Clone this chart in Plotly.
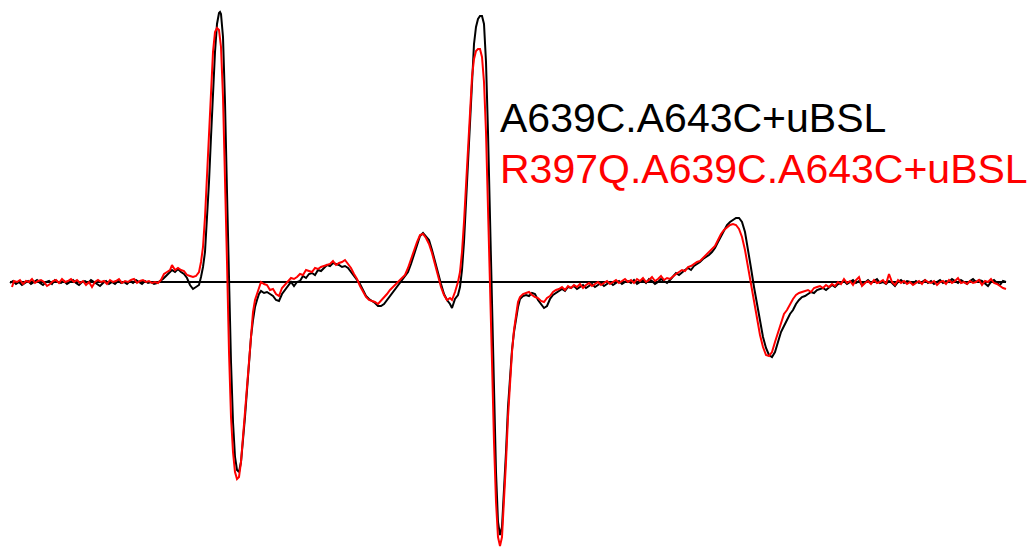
import plotly.graph_objects as go

# EPR first-derivative spectra (field index vs. signal, arbitrary units)
black_field = [
    10, 13, 16, 19, 22, 25, 28, 31, 34, 37, 40, 43, 46, 49, 52, 55, 58, 61, 64, 67,
    70, 73, 76, 79, 82, 85, 88, 91, 94, 97, 100, 103, 106, 109, 112, 115, 118, 121, 124, 127,
    130, 133, 136, 139, 142, 145, 148, 151, 154, 157, 160, 163, 166, 169, 172, 175, 178, 181, 184, 187,
    190, 193, 196, 199, 201, 203, 205, 207, 209, 211, 213, 215, 217, 219, 220, 221, 223, 225, 227, 229,
    231, 233, 235, 237, 239, 241, 243, 245, 247, 249, 251, 253, 255, 257, 259, 261, 264, 267, 270, 273,
    276, 279, 282, 285, 288, 291, 294, 297, 300, 303, 306, 309, 312, 315, 318, 321, 324, 327, 330, 333,
    336, 339, 342, 345, 348, 351, 354, 357, 360, 363, 366, 369, 372, 375, 378, 381, 384, 387, 390, 393,
    396, 399, 402, 405, 408, 411, 414, 417, 420, 423, 426, 429, 432, 435, 438, 441, 444, 447, 450, 452,
    455, 458, 460, 462, 464, 466, 468, 470, 472, 474, 476, 478, 480, 482, 484, 486, 488, 490, 492, 494,
    496, 498, 500, 502, 504, 506, 508, 510, 512, 514, 516, 518, 520, 523, 526, 529, 532, 535, 538, 541,
    544, 547, 550, 553, 556, 559, 562, 565, 568, 571, 574, 577, 580, 583, 586, 589, 592, 595, 598, 601,
    604, 607, 610, 613, 616, 619, 622, 625, 628, 631, 634, 637, 640, 643, 646, 649, 652, 655, 658, 661,
    664, 667, 670, 673, 676, 679, 682, 685, 688, 691, 694, 697, 700, 703, 706, 709, 712, 715, 718, 721,
    724, 727, 730, 733, 736, 739, 742, 745, 748, 751, 754, 757, 760, 763, 766, 769, 772, 775, 778, 781,
    784, 787, 790, 793, 796, 799, 802, 805, 808, 811, 814, 817, 820, 823, 826, 829, 832, 835, 838, 841,
    844, 847, 850, 853, 856, 859, 862, 865, 868, 871, 874, 877, 880, 883, 886, 889, 892, 895, 898, 901,
    904, 907, 910, 913, 916, 919, 922, 925, 928, 931, 934, 937, 940, 943, 946, 949, 952, 955, 958, 961,
    964, 967, 970, 973, 976, 979, 982, 985, 988, 991, 994, 997, 1000, 1003, 1006,
]
black_signal = [
    -1, 1, -2, 0, -3, -1, 1, -2, 0, 2, -1, -3, 0, 1, -2, 2, 0, -1, 1, -2,
    0, 2, -1, -3, 0, 1, -1, 2, 0, -2, -4, -1, 1, -2, 0, -2, 1, -1, 0, -2,
    1, -1, 2, 0, -2, 1, -1, 0, -2, -1, 1, 3, 6, 9, 12, 10, 13, 10, 8, 4,
    -3, -7, -5, -3, 5, 15, 30, 60, 100, 145, 190, 230, 258, 269, 270, 268, 245, 180, 90, 0,
    -80, -140, -175, -188, -190, -180, -160, -135, -108, -80, -55, -38, -25, -18, -12, -9, -11, -10, -12, -14,
    -18, -19, -12, -8, -3, 0, -4, 0, 1, 6, 4, 8, 9, 7, 12, 11, 14, 17, 16, 19,
    18, 17, 15, 16, 14, 10, 7, 2, -2, -8, -14, -17, -19, -21, -24, -24, -22, -18, -15, -11,
    -6, -3, 2, 5, 10, 18, 28, 38, 46, 49, 46, 42, 32, 20, 10, -2, -12, -18, -22, -26,
    -17, -13, -5, 12, 40, 80, 130, 170, 210, 238, 255, 263, 266, 266, 258, 220, 150, 60, -20, -110,
    -190, -240, -253, -245, -210, -170, -125, -90, -68, -50, -35, -25, -17, -14, -13, -14, -11, -12, -18, -22,
    -26, -24, -17, -13, -11, -9, -7, -9, -5, -6, -4, -7, -5, -3, -6, -4, -2, -5, -3, -1,
    -4, -2, 0, -3, -1, 1, -2, 0, 1, -1, 2, -2, 0, 2, -1, 3, 1, -2, 0, 3,
    1, -1, 2, 5, 9, 7, 10, 12, 14, 12, 16, 18, 20, 23, 25, 27, 30, 34, 40, 46,
    52, 57, 60, 62, 64, 64, 60, 50, 34, 14, -5, -22, -40, -55, -66, -73, -75, -70, -60, -50,
    -44, -38, -32, -28, -22, -18, -15, -14, -12, -10, -11, -8, -7, -6, -8, -5, -3, -5, -2, -1,
    1, -2, 0, 2, -1, 1, -3, 0, 2, -1, 1, 3, -1, 0, -2, 1, -1, -4, 0, 2,
    -1, 1, 0, -2, 1, -1, 0, 2, -1, 1, -2, 0, 2, -1, 1, 0, 3, 1, -1, 2,
    0, -2, 1, 3, 0, 2, 1, -2, -4, 0, 2, -1, -3, 1, 0,
]

red_field = [
    12, 14, 17, 20, 23, 26, 29, 32, 35, 38, 41, 44, 47, 50, 53, 56, 59, 62, 65, 68,
    71, 74, 77, 80, 83, 86, 89, 92, 95, 98, 101, 104, 107, 110, 113, 116, 119, 122, 125, 128,
    131, 134, 137, 140, 143, 146, 149, 152, 155, 158, 161, 164, 167, 170, 172, 175, 178, 181, 184, 187,
    190, 193, 196, 199, 201, 203, 205, 207, 209, 211, 213, 215, 217, 219, 221, 223, 225, 227, 229, 231,
    233, 235, 237, 239, 241, 243, 245, 247, 249, 251, 253, 255, 257, 259, 261, 264, 267, 270, 273, 276,
    279, 282, 285, 288, 291, 294, 297, 300, 303, 306, 309, 312, 315, 318, 321, 324, 327, 330, 333, 336,
    339, 342, 345, 348, 351, 354, 357, 360, 363, 366, 369, 372, 375, 378, 381, 384, 387, 390, 393, 396,
    399, 402, 405, 408, 411, 414, 417, 420, 423, 426, 429, 432, 435, 438, 441, 444, 447, 450, 452, 455,
    458, 460, 462, 464, 466, 468, 470, 472, 474, 476, 478, 480, 482, 484, 486, 488, 490, 492, 494, 496,
    498, 500, 502, 504, 506, 508, 510, 512, 514, 516, 518, 520, 523, 526, 529, 532, 535, 538, 541, 544,
    547, 550, 553, 556, 559, 562, 565, 568, 571, 574, 577, 580, 583, 586, 589, 592, 595, 598, 601, 604,
    607, 610, 613, 616, 619, 622, 625, 628, 631, 634, 637, 640, 643, 646, 649, 652, 655, 658, 661, 664,
    667, 670, 673, 676, 679, 682, 685, 688, 691, 694, 697, 700, 703, 706, 709, 712, 715, 718, 721, 724,
    727, 730, 733, 736, 739, 742, 745, 748, 751, 754, 757, 760, 763, 766, 769, 772, 775, 778, 781, 784,
    787, 790, 793, 796, 799, 802, 805, 808, 811, 814, 817, 820, 823, 826, 829, 832, 835, 838, 841, 844,
    847, 850, 853, 856, 859, 862, 865, 868, 871, 874, 877, 880, 883, 886, 889, 892, 895, 898, 901, 904,
    907, 910, 913, 916, 919, 922, 925, 928, 931, 934, 937, 940, 943, 946, 949, 952, 955, 958, 961, 964,
    967, 970, 973, 976, 979, 982, 985, 988, 991, 994, 997, 1000, 1003, 1006,
]
red_signal = [
    -5, 1, 0, 2, -2, 1, 0, 3, -1, 1, 2, 0, -4, -2, 1, 2, -1, 3, 0, 1,
    3, 0, 2, -1, 1, -3, 0, -5, 0, 2, 0, 1, -2, 2, 0, 1, 3, -1, 1, 0,
    2, 3, -1, 1, 2, 0, 1, -1, 0, -1, 2, 8, 10, 12, 17, 12, 14, 12, 11, 7,
    6, 5, 6, 10, 20, 35, 65, 105, 150, 195, 230, 250, 254, 252, 235, 185, 110, 20, -70, -135,
    -170, -190, -197, -195, -180, -155, -128, -100, -72, -48, -30, -18, -12, -5, 0, -2, -3, -8, -7, -12,
    -14, -6, -3, 0, 4, 3, 5, 8, 7, 12, 11, 10, 14, 13, 15, 16, 17, 18, 21, 17,
    19, 20, 22, 18, 14, 8, 3, -4, -10, -15, -18, -19, -20, -22, -19, -16, -12, -8, -5, -3,
    0, 3, 7, 14, 23, 32, 40, 47, 48, 44, 38, 29, 18, 6, -5, -13, -18, -16, -18, -10,
    0, 10, 30, 60, 100, 140, 175, 205, 223, 231, 233, 233, 225, 200, 150, 80, 0, -80, -160, -220,
    -255, -264, -255, -220, -180, -135, -95, -70, -48, -32, -20, -15, -12, -11, -10, -13, -15, -16, -19, -20,
    -16, -14, -10, -8, -7, -5, -8, -4, -6, -3, -5, -2, -6, -3, -1, -4, -2, 0, -3, -1,
    1, -2, 0, 2, -1, 1, 3, 0, 2, -1, 3, 1, 4, 0, 2, 5, 1, 3, 6, 2,
    4, 3, 6, 8, 10, 12, 11, 15, 16, 18, 20, 21, 24, 26, 29, 32, 36, 42, 48, 52,
    55, 57, 58, 57, 53, 45, 32, 15, -2, -20, -38, -53, -65, -73, -74, -70, -60, -50, -40, -32,
    -28, -22, -17, -13, -11, -10, -9, -8, -10, -6, -5, -4, -6, -3, -5, -2, -4, 0, -2, 3,
    -1, 1, -3, 2, 5, -4, -1, 1, -2, 2, -1, 0, 2, -2, 8, 0, -3, 2, -1, 1,
    -2, 0, -3, -1, 1, -2, 2, 0, -1, 1, -3, 0, 1, -2, 2, -1, 1, 4, -1, 0,
    -2, 1, -1, 0, 2, -3, 1, 0, 3, -1, -2, -4, -6, -7,
]

series_names = ["A639C.A643C+uBSL", "R397Q.A639C.A643C+uBSL"]
series_colors = ["#000000", "#ff0000"]

fig = go.Figure()

# zero baseline
fig.add_trace(go.Scatter(
    x=[black_field[0], black_field[-1]], y=[0, 0], mode="lines",
    line=dict(color="#000000", width=2), showlegend=False, hoverinfo="skip",
))
fig.add_trace(go.Scatter(
    x=black_field, y=black_signal, mode="lines", name=series_names[0],
    line=dict(color=series_colors[0], width=2), showlegend=False,
))
fig.add_trace(go.Scatter(
    x=red_field, y=red_signal, mode="lines", name=series_names[1],
    line=dict(color=series_colors[1], width=2), showlegend=False,
))

label_y = [118, 169]
for name, color, ypix in zip(series_names, series_colors, label_y):
    fig.add_annotation(
        x=498 / 1036, y=1 - ypix / 547, xref="paper", yref="paper",
        text=name, showarrow=False, xanchor="left", yanchor="middle",
        font=dict(family="Liberation Sans, Arial, sans-serif", size=41, color=color),
    )

fig.update_layout(
    width=1036, height=547,
    margin=dict(l=0, r=0, t=0, b=0),
    paper_bgcolor="white", plot_bgcolor="white",
    xaxis=dict(range=[0, 1036], visible=False, fixedrange=True),
    yaxis=dict(range=[-265, 282], visible=False, fixedrange=True),
)

fig.write_html("out.html")
